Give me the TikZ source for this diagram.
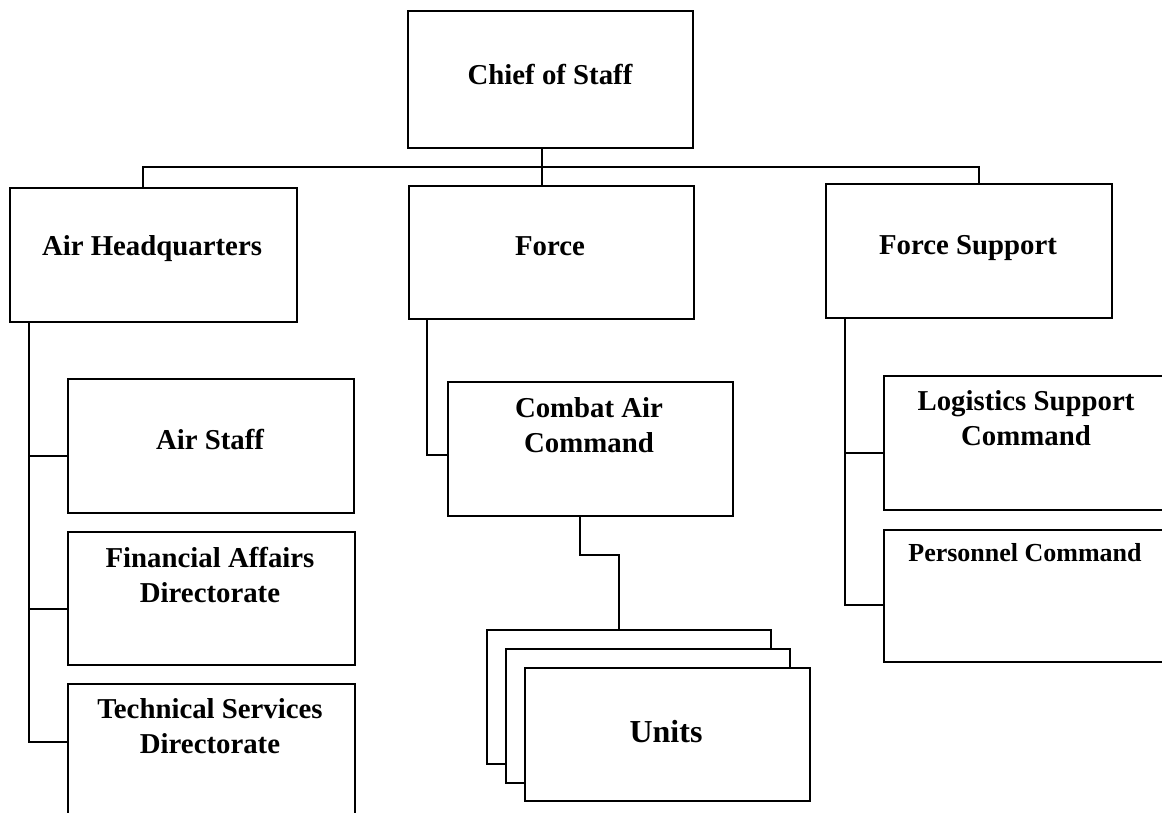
\documentclass[tikz,border=0pt]{standalone}
\usepackage{fontspec}
\setmainfont{Liberation Serif}
\usetikzlibrary{calc}
\begin{document}
\begin{tikzpicture}[x=1pt,y=-1pt,
  box/.style={draw, line width=2.3pt, fill=white, inner sep=0pt, anchor=north west},
  lbl/.style={font=\bfseries\fontsize{28.8}{35}\selectfont, align=center, inner sep=0pt},
  link/.style={line width=2pt}]
\useasboundingbox (0,0) rectangle (1162,812);

% top level
\node[box, minimum width=285pt, minimum height=137pt] (chief) at (407,10) {};
\node[box, minimum width=287pt, minimum height=134pt] (ahq) at (9,187) {};
\node[box, minimum width=285pt, minimum height=133pt] (force) at (408,185) {};
\node[box, minimum width=286pt, minimum height=134pt] (fs) at (825,183) {};

% Air Headquarters branch
\node[box, minimum width=286pt, minimum height=134pt] (airstaff) at (67,378) {};
\node[box, minimum width=287pt, minimum height=133pt] (fin) at (67,531) {};
\node[box, minimum width=287pt, minimum height=134pt] (tech) at (67,683) {};

% Force branch
\node[box, minimum width=285pt, minimum height=134pt] (combat) at (447,381) {};
\node[box, minimum width=284pt, minimum height=134pt] (u3) at (486,629) {};
\node[box, minimum width=284pt, minimum height=134pt] (u2) at (505,648) {};
\node[box, minimum width=285pt, minimum height=133pt] (u1) at (524,667) {};

% Force Support branch
\node[box, minimum width=286pt, minimum height=134pt] (log) at (883,375) {};
\node[box, minimum width=286pt, minimum height=132pt] (pers) at (883,529) {};

% labels
\node[lbl] (chief-t) at (550,74) {Chief of Staff};
\node[lbl] (ahq-t) at (152,249) {Air Headquarters};
\node[lbl] (force-t) at (550,246) {Force};
\node[lbl] (fs-t) at (968,248) {Force Support};
\node[lbl] (airstaff-t) at (210,439) {Air Staff};
\node[lbl] (fin-t) at (210,575) {Financial Affairs\\Directorate};
\node[lbl] (tech-t) at (210,726) {Technical Services\\Directorate};
\node[lbl] (combat-t) at (589,425) {Combat Air\\Command};
\node[lbl, font=\bfseries\fontsize{32}{38}\selectfont] (units-t) at (666,732) {Units};
\node[lbl] (log-t) at (1026,418) {Logistics Support\\Command};
\node[lbl, font=\bfseries\fontsize{26}{31}\selectfont] (pers-t) at (1025,553) {Personnel Command};

% connectors
\coordinate (bus) at (541,167);
\draw[link] ($(chief.south)+(-9,0)$) coordinate (cdrop) -- (cdrop |- force.north);
\draw[link] ($(ahq.north)+(-10.5,0)$) |- (bus) -| ($(fs.north)+(9.5,0)$);

\coordinate (spineA) at ($(ahq.south west)+(20,0)$);
\draw[link] (spineA) |- ($(airstaff.west)+(0,10)$);
\draw[link] (spineA) |- ($(fin.west)+(0,10.5)$);
\draw[link] (spineA) |- ($(tech.west)+(0,-9)$);

\draw[link] ($(force.south west)+(19,0)$) |- ($(combat.west)+(0,6)$);
\draw[link] ($(combat.south)+(-10.5,0)$) -- ++(0,38) -| ($(u3.north)+(-10,0)$);

\coordinate (spineB) at ($(fs.south west)+(20,0)$);
\draw[link] (spineB) |- ($(log.west)+(0,10)$);
\draw[link] (spineB) |- ($(pers.west)+(0,9)$);
\end{tikzpicture}
\end{document}
